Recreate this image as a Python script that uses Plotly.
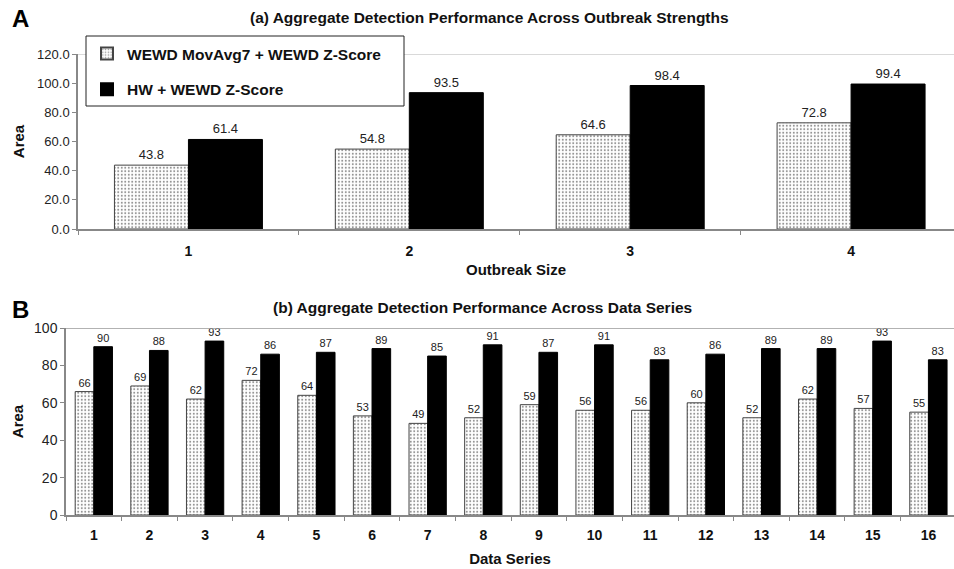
import plotly.graph_objects as go

# ---------------- data ----------------
outbreak_sizes = ["1", "2", "3", "4"]
a_movavg = [43.8, 54.8, 64.6, 72.8]
a_hw = [61.4, 93.5, 98.4, 99.4]

data_series = [str(i) for i in range(1, 17)]
b_movavg = [66, 69, 62, 72, 64, 53, 49, 52, 59, 56, 56, 60, 52, 62, 57, 55]
b_hw = [90, 88, 93, 86, 87, 89, 85, 91, 87, 91, 83, 86, 89, 89, 93, 83]

name_ma = "WEWD MovAvg7 + WEWD Z-Score"
name_hw = "HW + WEWD Z-Score"

W, H = 954, 569
FONT = "Arial, Liberation Sans, Helvetica, sans-serif"

def px_x(p):
    return p / W

def px_y(p):
    return 1 - p / H

dot_pattern = dict(shape=".", fgcolor="#222", bgcolor="white", size=3.5, solidity=0.25)

fig = go.Figure()

# Panel A
fig.add_trace(go.Bar(
    x=outbreak_sizes, y=a_movavg, name=name_ma, legendgroup="ma",
    marker=dict(color="white", pattern=dot_pattern, line=dict(color="#444", width=1)),
    text=[f"{v:.1f}" for v in a_movavg], textposition="outside",
    textfont=dict(size=13, color="#222", family=FONT), cliponaxis=False,
    xaxis="x", yaxis="y",
))
fig.add_trace(go.Bar(
    x=outbreak_sizes, y=a_hw, name=name_hw, legendgroup="hw",
    marker=dict(color="black", line=dict(color="black", width=1)),
    text=[f"{v:.1f}" for v in a_hw], textposition="outside",
    textfont=dict(size=13, color="#222", family=FONT), cliponaxis=False,
    xaxis="x", yaxis="y",
))

# Panel B
fig.add_trace(go.Bar(
    x=data_series, y=b_movavg, name=name_ma, showlegend=False,
    marker=dict(color="white", pattern=dot_pattern, line=dict(color="#444", width=1)),
    text=[str(v) for v in b_movavg], textposition="outside",
    textfont=dict(size=11, color="#222", family=FONT), cliponaxis=False,
    xaxis="x2", yaxis="y2",
))
fig.add_trace(go.Bar(
    x=data_series, y=b_hw, name=name_hw, showlegend=False,
    marker=dict(color="black", line=dict(color="black", width=1)),
    text=[str(v) for v in b_hw], textposition="outside",
    textfont=dict(size=11, color="#222", family=FONT), cliponaxis=False,
    xaxis="x2", yaxis="y2",
))

axis_common = dict(
    showline=True, linecolor="#888", linewidth=1.5, showgrid=False, zeroline=False,
    ticks="outside", tickcolor="#888", ticklen=4, automargin=False,
)

fig.update_layout(
    width=W, height=H,
    margin=dict(l=0, r=0, t=0, b=0, autoexpand=False),
    paper_bgcolor="white", plot_bgcolor="white",
    font=dict(family=FONT, color="#222"),
    barmode="group", bargap=0.33, bargroupgap=0.0,
    xaxis=dict(
        domain=[px_x(78), 1.0], anchor="y", type="category",
        range=[-0.5, 3.466], tickson="boundaries",
        tickfont=dict(size=14, color="#111", family=FONT, weight="bold"),
        ticklabelstandoff=8,
        title=dict(text="<b>Outbreak Size</b>", font=dict(size=15, color="#111"), standoff=7),
        **axis_common,
    ),
    yaxis=dict(
        domain=[px_y(229), px_y(54)], anchor="x",
        range=[0, 120], tickvals=[0, 20, 40, 60, 80, 100, 120],
        ticktext=["0.0", "20.0", "40.0", "60.0", "80.0", "100.0", "120.0"],
        tickfont=dict(size=13, color="#222"),
        title=dict(text="<b>Area</b>", font=dict(size=15, color="#111"), standoff=9),
        **axis_common,
    ),
    xaxis2=dict(
        domain=[px_x(66), 1.0], anchor="y2", type="category",
        range=[-0.5, 15.46], tickson="boundaries",
        tickfont=dict(size=14, color="#111", family=FONT, weight="bold"),
        ticklabelstandoff=6,
        title=dict(text="<b>Data Series</b>", font=dict(size=15, color="#111"), standoff=12),
        **axis_common,
    ),
    yaxis2=dict(
        domain=[px_y(515), px_y(328)], anchor="x2",
        range=[0, 100], tickvals=[0, 20, 40, 60, 80, 100],
        tickfont=dict(size=14, color="#222"),
        title=dict(text="<b>Area</b>", font=dict(size=15, color="#111"), standoff=7),
        **axis_common,
    ),
    showlegend=True,
    legend=dict(
        x=px_x(87), y=px_y(37), xanchor="left", yanchor="top",
        bgcolor="rgba(0,0,0,0)", borderwidth=0,
        font=dict(size=15.5, color="#111", family=FONT, weight="bold"),
        traceorder="grouped", tracegroupgap=12.5, itemsizing="constant",
    ),
    shapes=[
        # top border lines of plot areas
        dict(type="line", xref="x domain", yref="y", x0=0, x1=1, y0=120, y1=120,
             line=dict(color="#ccc", width=1.5)),
        dict(type="line", xref="x2 domain", yref="y2", x0=0, x1=1, y0=100, y1=100,
             line=dict(color="#999", width=1.5)),
        # legend box
        dict(type="rect", xref="paper", yref="paper",
             x0=px_x(86), x1=px_x(404), y0=px_y(106), y1=px_y(36),
             line=dict(color="#222", width=1), fillcolor="white", layer="above"),
    ],
    annotations=[
        dict(text="<b>A</b>", x=px_x(10), y=px_y(18.5), xref="paper", yref="paper",
             xanchor="left", yanchor="middle", showarrow=False,
             font=dict(size=24, color="black")),
        dict(text="<b>B</b>", x=px_x(10), y=px_y(309), xref="paper", yref="paper",
             xanchor="left", yanchor="middle", showarrow=False,
             font=dict(size=24, color="black")),
        dict(text="<b>(a) Aggregate Detection Performance Across Outbreak Strengths</b>",
             x=px_x(490), y=px_y(17), xref="paper", yref="paper",
             xanchor="center", yanchor="middle", showarrow=False,
             font=dict(size=15.5, color="#111")),
        dict(text="<b>(b) Aggregate Detection Performance Across Data Series</b>",
             x=px_x(482), y=px_y(307), xref="paper", yref="paper",
             xanchor="center", yanchor="middle", showarrow=False,
             font=dict(size=15.5, color="#111")),
    ],
)

fig.write_html(
    "out.html",
    config={"displayModeBar": False},
    post_script="document.body.style.margin='0';document.body.style.padding='0';",
)
